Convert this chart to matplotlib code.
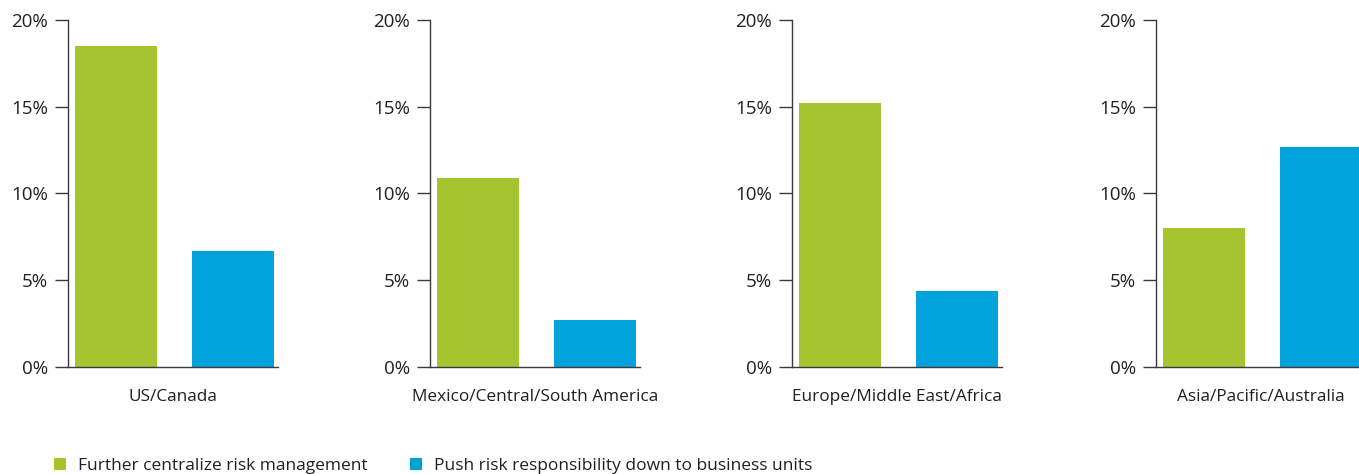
import matplotlib
matplotlib.use("Agg")
import matplotlib.pyplot as plt
from matplotlib.patches import Patch
from matplotlib.ticker import FuncFormatter

regions = ["US/Canada", "Mexico/Central/South America",
           "Europe/Middle East/Africa", "Asia/Pacific/Australia"]
centralize = [18.5, 10.9, 15.2, 8.0]
push_down = [6.7, 2.7, 4.4, 12.7]
series_names = ["Further centralize risk management",
                "Push risk responsibility down to business units"]
yticks = [0, 5, 10, 15, 20]

GREEN = "#A5C42F"
BLUE = "#02A3DD"
TXT = "#231F20"
AX = "#3A3A3A"

plt.rcParams['font.family'] = ['Open Sans', 'DejaVu Sans']

W, H = 1359, 474
fig = plt.figure(figsize=(W / 100, H / 100), dpi=100)

spine_x = [68, 430, 792, 1156]
ax_w = 210
ax_top, ax_bot = 20, 367

for i, reg in enumerate(regions):
    ax = fig.add_axes([spine_x[i] / W, (H - ax_bot) / H, ax_w / W, (ax_bot - ax_top) / H])
    ax.bar([0], [centralize[i]], width=0.70, color=GREEN, linewidth=0)
    ax.bar([1], [push_down[i]], width=0.70, color=BLUE, linewidth=0)
    ax.set_xlim(-0.41, 1.385)
    ax.set_ylim(0, 20)
    ax.set_yticks(yticks)
    ax.yaxis.set_major_formatter(FuncFormatter(lambda v, p: f"{v:.0f}%"))
    ax.set_xticks([])
    for s in ["top", "right"]:
        ax.spines[s].set_visible(False)
    for s in ["left", "bottom"]:
        ax.spines[s].set_color(AX)
        ax.spines[s].set_linewidth(1.0)
    ax.tick_params(axis="y", direction="out", length=9.5, width=1.0, color=AX,
                   pad=5, labelsize=13.5, labelcolor=TXT)
    ax.text(0.5, -30 / (ax_bot - ax_top), reg, transform=ax.transAxes,
            ha="center", va="center", fontsize=12.4, color=TXT)

handles = [Patch(facecolor=GREEN, edgecolor="none"), Patch(facecolor=BLUE, edgecolor="none")]
leg_x = [55, 411]
for h, name, x in zip(handles, series_names, leg_x):
    fig.legend([h], [name], loc="center left", bbox_to_anchor=(x / W - 0.001, (H - 466) / H),
               frameon=False, fontsize=12.5, handlelength=0.7, handleheight=0.7,
               handletextpad=0.7, borderpad=0, borderaxespad=0, labelcolor=TXT)

fig.savefig("out.png", dpi=100)
